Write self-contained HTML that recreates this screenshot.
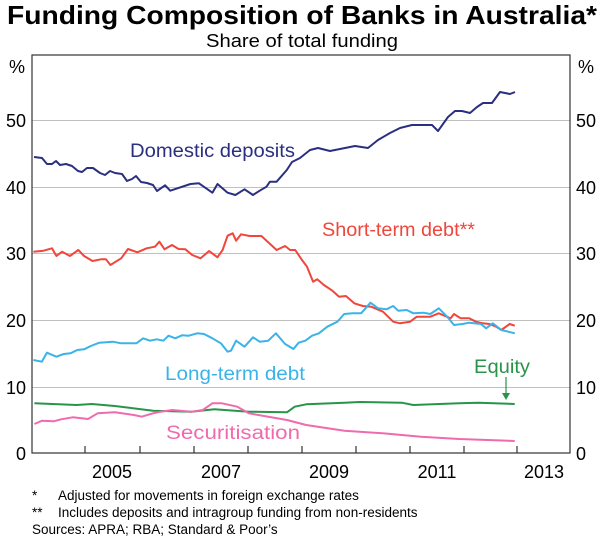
<!DOCTYPE html><html><head><meta charset="utf-8"><style>
body{margin:0;background:#fff;width:600px;height:541px;overflow:hidden;font-family:"Liberation Sans",Arial,sans-serif}
</style></head><body>
<svg id="s" width="600" height="541" xmlns="http://www.w3.org/2000/svg" font-family="Liberation Sans, Arial, sans-serif">
<text x="302" y="24" text-anchor="middle" font-size="26" font-weight="bold" textLength="590" lengthAdjust="spacingAndGlyphs">Funding Composition of Banks in Australia*</text>
<text x="302" y="47" text-anchor="middle" font-size="18" textLength="192" lengthAdjust="spacingAndGlyphs">Share of total funding</text>
<g stroke="#c0c0c0" stroke-width="1">
<line x1="32" x2="570" y1="120.5" y2="120.5"/><line x1="32" x2="570" y1="187.5" y2="187.5"/><line x1="32" x2="570" y1="253.5" y2="253.5"/><line x1="32" x2="570" y1="320.5" y2="320.5"/><line x1="32" x2="570" y1="387.5" y2="387.5"/>
</g>
<rect x="32" y="55" width="538" height="398" fill="none" stroke="#333" stroke-width="1.2"/>
<g stroke="#333" stroke-width="1.2" id="ticks"></g>
<g font-size="18" fill="#000">
<text x="25" y="73" text-anchor="end">%</text><text x="578" y="73">%</text>
<text x="26" y="127" text-anchor="end">50</text><text x="26" y="194" text-anchor="end">40</text><text x="26" y="260" text-anchor="end">30</text><text x="26" y="327" text-anchor="end">20</text><text x="26" y="394" text-anchor="end">10</text><text x="26" y="460" text-anchor="end">0</text>
<text x="576" y="127">50</text><text x="576" y="194">40</text><text x="576" y="260">30</text><text x="576" y="327">20</text><text x="576" y="394">10</text><text x="576" y="460">0</text>
<text x="112" y="478" text-anchor="middle">2005</text><text x="221" y="478" text-anchor="middle">2007</text><text x="329" y="478" text-anchor="middle">2009</text><text x="437" y="478" text-anchor="middle">2011</text><text x="544" y="478" text-anchor="middle">2013</text>
</g>
<g fill="none" stroke-width="2" stroke-linejoin="round">
<path id="dd" stroke="#2b2f7f"/><path id="st" stroke="#f0463c"/><path id="lt" stroke="#3ab3e8"/><path id="eq" stroke="#28944a"/><path id="se" stroke="#f06aae"/>
</g>
<g font-size="19">
<text x="130" y="157" fill="#2b2f7f" textLength="165" lengthAdjust="spacingAndGlyphs">Domestic deposits</text>
<text x="322" y="236" fill="#f0463c" textLength="153" lengthAdjust="spacingAndGlyphs">Short-term debt**</text>
<text x="165" y="380" fill="#3ab3e8" textLength="140" lengthAdjust="spacingAndGlyphs">Long-term debt</text>
<text x="474" y="373" fill="#28944a" textLength="56" lengthAdjust="spacingAndGlyphs">Equity</text>
<text x="166" y="439" fill="#f06aae" textLength="134" lengthAdjust="spacingAndGlyphs">Securitisation</text>
</g>
<line x1="506" y1="377" x2="506" y2="394" stroke="#28944a" stroke-width="1.2"/>
<polygon points="502,393 510,393 506,400" fill="#28944a"/>
<g font-size="13.5">
<text x="32" y="500">*</text><text x="58" y="500">Adjusted for movements in foreign exchange rates</text>
<text x="32" y="517">**</text><text x="58" y="517">Includes deposits and intragroup funding from non-residents</text>
<text x="32" y="534">Sources: APRA; RBA; Standard &amp; Poor’s</text>
</g>
</svg>
<script>
function P(id,pts){document.getElementById(id).setAttribute('d','M'+pts.map(p=>p[0].toFixed(1)+','+p[1].toFixed(1)).join('L'));}
var t=document.getElementById('ticks'),h='';
[85,140,194,248,302,356,410,464,517].forEach(x=>{h+='<line x1="'+x+'" x2="'+x+'" y1="453" y2="446"/>';});
t.innerHTML=h;
var dd=[[34,157],[42,158],[47,164],[52,164],[56,161],[60,165],[66,164],[72,166],[78,171],[82,172],[87,168],[93,168],[100,173],[105,175],[110,171],[115,173],[122,174],[127,181],[132,179],[136,176],[141,182],[147,183],[153,185],[157,191]];
var z4d=[[400,46],[415,62],[475,42],[500,40],[540,68],[555,42],[585,68],[608,75],[635,58],[660,75],[680,62],[700,50],[710,35],[730,35],[760,0]];
z4d.forEach(p=>dd.push([30+p[0]/2.96,170+p[1]/3]));
dd=dd.concat([[292,162],[300,158],[310,150],[318,148],[330,151],[345,148],[355,146],[368,148],[378,140],[390,133],[400,128],[412,125],[420,125],[425,125],[432,125],[438,131],[448,117],[455,111],[462,111],[470,113],[477,107],[483,103],[492,103],[500,92],[505,93],[510,94],[515,92]]);
P('dd',dd);
var st=[[10,245],[40,242],[65,235],[78,258],[95,245],[118,258],[143,240],[160,258],[185,273],[210,268],[225,268],[238,285],[270,265],[290,237],[318,247],[345,235],[370,230],[383,215],[398,238],[420,225],[440,237],[460,238],[480,255],[505,265],[530,243],[555,262],[570,240],[585,197],[600,190],[610,212],[625,193],[650,198],[685,198],[730,240],[755,228],[770,240],[785,240],[805,270],[820,290],[838,335],[850,328],[870,345],[895,362],[915,380],[935,378],[960,400],[985,408],[1010,410],[1045,425],[1075,455],[1095,460],[1125,455],[1145,440],[1170,440],[1185,440],[1210,430],[1245,445],[1255,432],[1275,445],[1300,445],[1320,455],[1340,460],[1360,462],[1380,470],[1395,480],[1420,462],[1435,467]];
var lt=[[10,570],[35,575],[50,548],[78,560],[100,552],[120,550],[140,540],[160,538],[180,528],[205,518],[245,515],[270,520],[315,520],[335,505],[355,512],[375,508],[395,512],[410,497],[430,505],[450,496],[470,497],[495,490],[515,492],[540,505],[565,520],[585,545],[595,542],[610,512],[635,530],[660,502],[680,515],[705,512],[728,490],[755,522],[780,537],[795,518],[815,512],[835,497],[855,490],[880,470],[910,455],[930,432],[955,430],[980,430],[1008,398],[1030,415],[1055,418],[1075,408],[1090,422],[1115,420],[1135,430],[1165,428],[1185,432],[1210,415],[1235,440],[1255,465],[1280,462],[1300,458],[1335,462],[1350,475],[1370,460],[1395,480],[1435,490]];
function z4(a){return a.map(p=>[30+p[0]/2.96,170+p[1]/3]);}
P('st',z4(st));P('lt',z4(lt));
function z2(a){return a.map(p=>[p[0]/2.613,360+p[1]/3]);}
P('eq',z2([[90,130],[200,135],[240,132],[300,138],[400,152],[500,155],[560,148],[650,155],[750,157],[770,140],[800,133],[900,128],[940,126],[1050,128],[1080,135],[1200,130],[1250,128],[1345,132]]));
P('se',z2([[90,192],[110,182],[140,184],[160,178],[190,172],[230,177],[255,160],[300,157],[350,165],[370,170],[400,160],[420,155],[450,150],[500,155],[530,150],[555,130],[580,130],[620,140],[650,160],[750,180],[800,195],[900,212],[1000,220],[1100,230],[1200,237],[1345,243]]));
</script>
</body></html>
